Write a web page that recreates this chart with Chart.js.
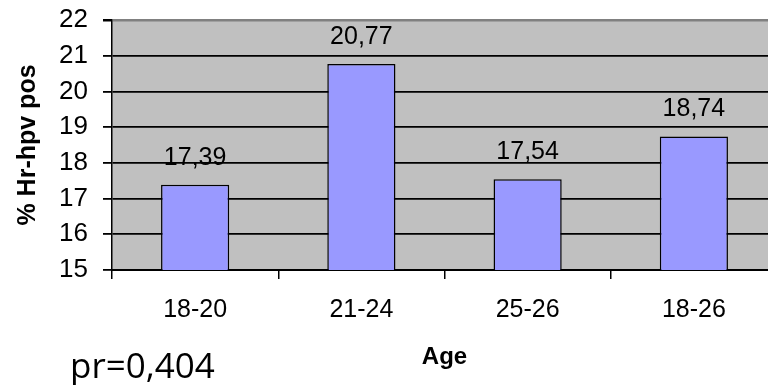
<!DOCTYPE html>
<html>
<head>
<meta charset="utf-8">
<script src="https://cdn.jsdelivr.net/npm/chart.js@4"></script>
<style>
  html, body { margin: 0; padding: 0; background: #fff; overflow: hidden; }
  #wrap { position: relative; width: 780px; height: 385px; }
</style>
</head>
<body>
<div id="wrap"><canvas id="chart" width="780" height="385"></canvas></div>
<script>
const ageGroups = ['18-20', '21-24', '25-26', '18-26'];
const hpvPos = [17.39, 20.77, 17.54, 18.74];
const yMin = 15, yMax = 22;
const note = 'pr=0,404';

const FONT = 'Arial, "Liberation Sans", sans-serif';

// grey plot area, value labels over bars, and the pr note
const decor = {
  id: 'decor',
  beforeDraw(chart) {
    const { ctx, chartArea: a } = chart;
    ctx.save();
    ctx.fillStyle = '#c0c0c0';
    ctx.fillRect(a.left, a.top, a.right - a.left, a.bottom - a.top);
    ctx.restore();
  },
  afterDatasetsDraw(chart) {
    const { ctx } = chart;
    const meta = chart.getDatasetMeta(0);
    ctx.save();
    ctx.font = '25px ' + FONT;
    ctx.fillStyle = '#000';
    ctx.textAlign = 'center';
    ctx.textBaseline = 'alphabetic';
    meta.data.forEach((bar, i) => {
      ctx.fillText(hpvPos[i].toFixed(2).replace('.', ','), bar.x, bar.y - 20);
    });
    ctx.restore();
  },
  afterDraw(chart) {
    const { ctx } = chart;
    ctx.save();
    ctx.font = '35px "Open Sans", sans-serif';
    ctx.fillStyle = '#000';
    ctx.textAlign = 'left';
    ctx.textBaseline = 'alphabetic';
    ctx.fillText(note, 70, 378);
    ctx.restore();
  }
};

new Chart(document.getElementById('chart'), {
  type: 'bar',
  data: {
    labels: ageGroups,
    datasets: [{
      data: hpvPos,
      backgroundColor: '#9999ff',
      borderColor: '#000',
      borderWidth: 1.5,
      categoryPercentage: 1,
      barPercentage: 0.41
    }]
  },
  options: {
    responsive: false,
    animation: false,
    layout: { padding: { top: 20, right: 3, left: 0, bottom: 0 } },
    plugins: { legend: { display: false }, tooltip: { enabled: false } },
    scales: {
      x: {
        afterFit: s => { s.height = 115; s.paddingLeft = 0; s.paddingRight = 0; },
        grid: { display: true, drawOnChartArea: false, drawTicks: true, tickLength: 9, color: '#000', lineWidth: 1.5 },
        border: { display: true, color: '#000', width: 2 },
        ticks: { color: '#000', font: { family: FONT, size: 25 }, padding: 16 },
        title: { display: true, text: 'Age', color: '#000', font: { family: FONT, size: 24, weight: 'bold' }, padding: { bottom: 13 } }
      },
      y: {
        min: yMin,
        max: yMax,
        afterFit: s => { s.width = 112; s.paddingTop = 0; s.paddingBottom = 0; },
        grid: {
          color: c => (c.tick && c.tick.value === yMax ? '#808080' : '#000'),
          lineWidth: c => (c.tick && c.tick.value === yMax ? 2.5 : 1.8),
          tickColor: '#000',
          tickLength: 9
        },
        border: { display: true, color: '#000', width: 1.5 },
        ticks: { stepSize: 1, color: '#000', font: { family: FONT, size: 26 }, padding: 15 },
        title: { display: true, text: '% Hr-hpv pos', color: '#000', font: { family: FONT, size: 25, weight: 'bold' }, padding: { top: 13 } }
      }
    }
  },
  plugins: [decor]
});
</script>
</body>
</html>
